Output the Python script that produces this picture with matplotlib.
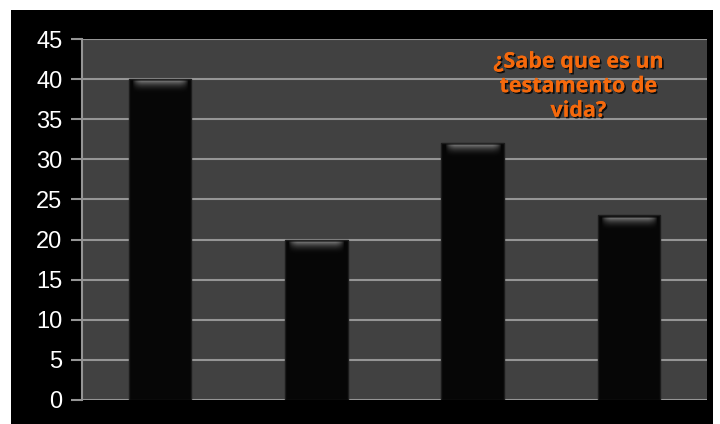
import numpy as np
import matplotlib.pyplot as plt
import matplotlib.patheffects as pe
from matplotlib.patches import Rectangle

categories = ["A", "B", "C", "D"]
values = [40, 20, 32, 23]
yticks = [0, 5, 10, 15, 20, 25, 30, 35, 40, 45]
title = "¿Sabe que es un\ntestamento de\nvida?"

fig = plt.figure(figsize=(7.2, 4.24), dpi=100, facecolor="white")
# black slide panel behind the chart
fig.patches.append(Rectangle((11 / 720, 0), 702 / 720, 414 / 424,
                             transform=fig.transFigure, facecolor="black",
                             edgecolor="none", zorder=-1))

ax = fig.add_axes([82 / 720, 24 / 424, 625 / 720, 361 / 424])
ax.set_facecolor("#414141")

x = np.arange(len(categories))
width = 0.4
ax.bar(x, values, width=width, color="#060606", edgecolor="#1c1c1c",
       linewidth=1, zorder=3)

# soft glossy highlight near the top of each bar
ny, nx = 40, 60
t = np.linspace(0, 1, ny)[:, None]            # 0 = bottom of band, 1 = top
vert = np.where(t > 0.9, 0.1, np.clip((t / 0.9) ** 2.5, 0, 1))
u = np.linspace(-1, 1, nx)[None, :]
horiz = np.clip((1 - np.abs(u) ** 6) * 1.1, 0, 1)
glow = np.zeros((ny, nx, 4))
glow[..., :3] = 0.62
glow[..., 3] = 0.75 * vert * horiz
for xi, v in zip(x, values):
    ax.imshow(glow, extent=(xi - width / 2 + 0.02, xi + width / 2 - 0.02, v - 2.0, v - 0.1),
              aspect="auto", origin="lower", zorder=4, interpolation="bilinear")

ax.set_xlim(-0.5, len(categories) - 0.5)
ax.set_ylim(0, 45)
ax.set_yticks(yticks)
ax.set_xticks([])
ax.yaxis.grid(True, color="#959595", linewidth=1.5, zorder=1)
ax.set_axisbelow(True)
for s in ["top", "right", "bottom"]:
    ax.spines[s].set_visible(False)
ax.spines["left"].set_color("#959595")
ax.spines["left"].set_linewidth(1.5)
ax.tick_params(axis="y", colors="#959595", length=8, width=1.5, pad=6,
               labelcolor="white", labelsize=17)
for lab in ax.get_yticklabels():
    lab.set_family("Liberation Sans")

ax.text(0.794, 0.965, title, transform=ax.transAxes, ha="center", va="top",
        color="#f5690c", fontsize=15.5, fontweight="bold", family="Open Sans",
        linespacing=1.22, zorder=5,
        path_effects=[pe.withSimplePatchShadow(offset=(1.2, -1.2), shadow_rgbFace="black", alpha=0.8),
                      pe.Normal()])

fig.savefig("out.png", dpi=100, facecolor="white")
